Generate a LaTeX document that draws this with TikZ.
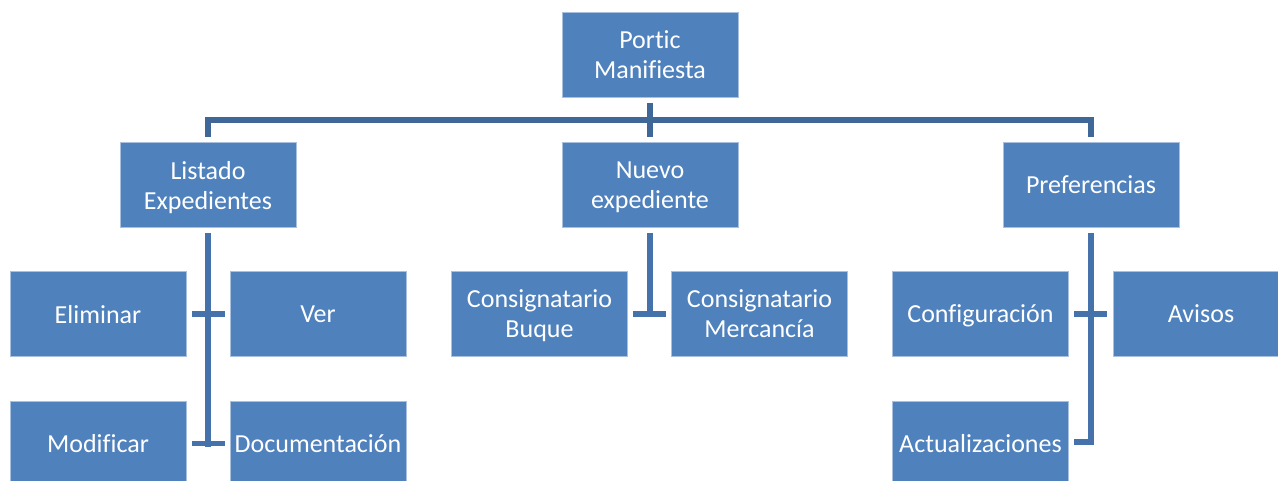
\documentclass[tikz,border=0pt]{standalone}
\usepackage{fontspec}
\setmainfont{Carlito}[Ligatures=NoCommon]
\usetikzlibrary{calc}
\definecolor{boxblue}{HTML}{4F81BD}
\definecolor{boxedge}{HTML}{A9C0DF}
\definecolor{topline}{HTML}{3F6899}
\definecolor{subline}{HTML}{4672AC}
\tikzset{
  orgbox/.style={rectangle, fill=boxblue, draw=boxedge, line width=0.8pt,
    minimum width=176pt, minimum height=85pt, inner sep=0pt, align=center,
    text=white, font=\fontsize{26}{30}\selectfont, text depth=0pt,
    execute at begin node={\rule{0pt}{17.5pt}}},
  topconn/.style={draw=topline, line width=5.5pt, line join=miter},
  subconn/.style={draw=subline, line width=5.5pt, line join=miter}
}
\begin{document}
\begin{tikzpicture}[x=1pt,y=-1pt]
\useasboundingbox (0,0) rectangle (1278,480);
\fill[white] (0,0) rectangle (1278,480);
\clip (0,0) rectangle (1278,480);
% nodes
\node[orgbox] (root)   at (650,55)    {Portic\\Manifiesta};
\node[orgbox] (listado) at (208,185)  {Listado\\Expedientes};
\node[orgbox] (nuevo)  at (650,185)   {Nuevo\\expediente};
\node[orgbox] (pref)   at (1091,185)  {Preferencias};
\node[orgbox] (elim)   at (98,314)    {Eliminar};
\node[orgbox] (ver)    at (318,314)   {Ver};
\node[orgbox] (modif)  at (98,443.5)  {Modificar};
\node[orgbox] (doc)    at (318,443.5) {Documentación};
\node[orgbox] (consB)  at (539.5,314) {Consignatario\\Buque};
\node[orgbox] (consM)  at (759.5,314) {Consignatario\\Mercancía};
\node[orgbox] (config) at (980.5,314) {Configuración};
\node[orgbox] (avisos) at (1201,314)  {Avisos};
\node[orgbox] (actual) at (980.5,443.5) {Actualizaciones};
% top level connectors
\draw[topconn] ($(root.south)+(0,5)$) -- ($(nuevo.north)+(0,-5)$);
\draw[topconn] ($(listado.north)+(0,-5)$) -- ++(0,-17) -| ($(pref.north)+(0,-5)$);
% Listado branch
\draw[subconn] ($(listado.south)+(0,5)$) -- ($(listado.south |- modif.east)+(0,3)$);
\draw[subconn] ($(elim.east)+(6,0)$) -- ($(ver.west)+(-5,0)$);
\draw[subconn] ($(modif.east)+(6,0)$) -- ($(doc.west)+(-5,0)$);
% Nuevo branch
\draw[subconn] ($(nuevo.south)+(0,5)$) -- ($(nuevo.south |- consB.east)+(0,3)$);
\draw[subconn] ($(consB.east)+(5,0)$) -- ($(consM.west)+(-5,0)$);
% Preferencias branch
\draw[subconn] ($(pref.south)+(0,5)$) |- ($(actual.east)+(5,-1.5)$);
\draw[subconn] ($(config.east)+(5,0)$) -- ($(avisos.west)+(-6,0)$);
\end{tikzpicture}
\end{document}
